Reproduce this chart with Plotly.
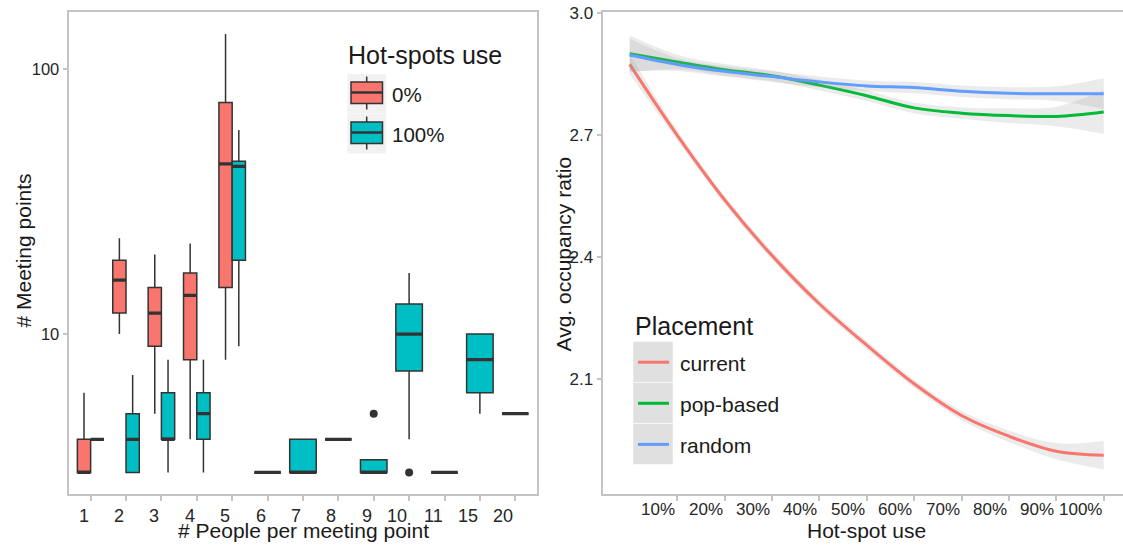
import numpy as np
import plotly.graph_objects as go

W, H = 1123, 545
FONT = "Liberation Sans, Arial, sans-serif"
TXT = "#1a1a1a"
TICK_TXT = "#262626"
FRAME = "#c4c4c4"
BOX_LINE = "#333333"

# ---------------- left panel: meeting-point size distributions ----------------
group_sizes = ["1", "2", "3", "4", "5", "6", "7", "8", "9", "10", "11", "15", "20"]

# 0% hot-spot use
sizes_0 = ["1", "2", "3", "4", "5"]
lo_0 = [3, 10, 5, 4, 8]
q1_0 = [3, 12, 9, 8, 15]
med_0 = [3, 16, 12, 14, 44]
q3_0 = [4, 19, 15, 17, 75]
hi_0 = [6, 23, 20, 22, 136]

# 100% hot-spot use
sizes_100 = ["1", "2", "3", "4", "5", "6", "7", "8", "9", "10", "11", "15", "20"]
lo_100 = [4, 3, 3, 3, 9, 3, 3, 4, 3, 4, 3, 5, 5]
q1_100 = [4, 3, 4, 4, 19, 3, 3, 4, 3, 7.25, 3, 6, 5]
med_100 = [4, 4, 4, 5, 43, 3, 3, 4, 3, 10, 3, 8, 5]
q3_100 = [4, 5, 6, 6, 45, 3, 4, 4, 3.35, 13, 3, 10, 5]
hi_100 = [4, 7, 8, 8, 59, 3, 4, 4, 3.35, 17, 3, 10, 5]

# outliers (100% hot-spot use)
outlier_sizes = ["9", "10"]
outlier_vals = [5, 3]

share_labels = ["0%", "100%"]
share_colors = ["#F8766D", "#00BFC4"]

# ---------------- right panel: occupancy vs hot-spot use ----------------
hotspot_use = [0.0, 0.1, 0.2, 0.3, 0.4, 0.5, 0.6, 0.7, 0.8, 0.9, 1.0]
x_tick_vals = [0.1, 0.2, 0.3, 0.4, 0.5, 0.6, 0.7, 0.8, 0.9, 1.0]
x_tick_text = ["10%", "20%", "30%", "40%", "50%", "60%", "70%", "80%", "90%", "100%"]
y_tick_vals = [2.1, 2.4, 2.7, 3.0]

current_fit = [2.874, 2.700, 2.541, 2.404, 2.285, 2.183, 2.088, 2.010, 1.959, 1.922, 1.912]
current_lo = [2.849, 2.688, 2.531, 2.394, 2.275, 2.173, 2.078, 1.999, 1.945, 1.902, 1.877]
current_hi = [2.899, 2.712, 2.551, 2.414, 2.295, 2.193, 2.098, 2.021, 1.973, 1.942, 1.947]

popbased_fit = [2.900, 2.880, 2.861, 2.846, 2.823, 2.797, 2.767, 2.754, 2.748, 2.746, 2.757]
popbased_lo = [2.855, 2.862, 2.847, 2.833, 2.810, 2.784, 2.754, 2.740, 2.730, 2.722, 2.703]
popbased_hi = [2.945, 2.898, 2.875, 2.859, 2.836, 2.810, 2.780, 2.768, 2.766, 2.770, 2.811]

random_fit = [2.897, 2.874, 2.857, 2.844, 2.831, 2.821, 2.817, 2.808, 2.803, 2.802, 2.802]
random_lo = [2.857, 2.858, 2.844, 2.831, 2.818, 2.808, 2.803, 2.794, 2.788, 2.784, 2.764]
random_hi = [2.937, 2.890, 2.870, 2.857, 2.844, 2.834, 2.831, 2.822, 2.818, 2.820, 2.840]

placement_labels = ["current", "pop-based", "random"]
placement_colors = ["#F8766D", "#00BA38", "#619CFF"]


def px(x):
    return x / W


def py(y):
    return 1 - y / H


fig = go.Figure()

# ---- boxes, dodged within each group size ----
series = [
    (sizes_0, lo_0, q1_0, med_0, q3_0, hi_0, share_colors[0]),
    (sizes_100, lo_100, q1_100, med_100, q3_100, hi_100, share_colors[1]),
]
present = {g: [k for k, s in enumerate(series) if g in s[0]] for g in group_sizes}
dodge = 0.75

med_x, med_y = [], []
for k, (sizes, lo, q1, med, q3, hi, col) in enumerate(series):
    for j, g in enumerate(sizes):
        members = present[g]
        n = len(members)
        w = dodge / n
        pos = group_sizes.index(g) + 1 + (members.index(k) - (n - 1) / 2) * w
        fig.add_trace(go.Box(
            x=[pos], q1=[q1[j]], median=[med[j]], q3=[q3[j]],
            lowerfence=[lo[j]], upperfence=[hi[j]],
            width=w * 0.999, fillcolor=col, whiskerwidth=0,
            line=dict(color=BOX_LINE, width=1.5), boxpoints=False,
            showlegend=False, hoverinfo="skip", xaxis="x", yaxis="y",
        ))
        med_x += [pos - w / 2, pos + w / 2, None]
        med_y += [med[j], med[j], None]

# thicker median bars
fig.add_trace(go.Scatter(
    x=med_x, y=med_y, mode="lines", line=dict(color=BOX_LINE, width=3.2),
    showlegend=False, hoverinfo="skip", xaxis="x", yaxis="y",
))

# outliers
fig.add_trace(go.Scatter(
    x=[group_sizes.index(g) + 1 for g in outlier_sizes], y=outlier_vals,
    mode="markers", marker=dict(color=BOX_LINE, size=8),
    showlegend=False, hoverinfo="skip", xaxis="x", yaxis="y",
))

# ---- smoothed occupancy curves with confidence ribbons ----
fits = [(current_fit, current_lo, current_hi),
        (popbased_fit, popbased_lo, popbased_hi),
        (random_fit, random_lo, random_hi)]
for (fit, lo, hi), col in zip(fits, placement_colors):
    fig.add_trace(go.Scatter(
        x=hotspot_use, y=lo, mode="lines", line=dict(width=0, shape="spline"),
        showlegend=False, hoverinfo="skip", xaxis="x2", yaxis="y2",
    ))
    fig.add_trace(go.Scatter(
        x=hotspot_use, y=hi, mode="lines", line=dict(width=0, shape="spline"),
        fill="tonexty", fillcolor="rgba(153,153,153,0.2)",
        showlegend=False, hoverinfo="skip", xaxis="x2", yaxis="y2",
    ))
    fig.add_trace(go.Scatter(
        x=hotspot_use, y=fit, mode="lines",
        line=dict(color=col, width=3, shape="spline"),
        showlegend=False, hoverinfo="skip", xaxis="x2", yaxis="y2",
    ))

# ---- axes ----
all_vals = lo_0 + lo_100 + hi_0 + hi_100 + outlier_vals
lmin, lmax = np.log10(min(all_vals)), np.log10(max(all_vals))
lpad = 0.05 * (lmax - lmin)

axis_common = dict(
    showline=True, linecolor=FRAME, linewidth=1.6, showgrid=False, zeroline=False,
    ticks="outside", ticklen=5, tickwidth=1.5, tickcolor=FRAME, automargin=False,
)
y_dom = [py(494.3), py(12.2)]

fig.update_layout(
    width=W, height=H,
    margin=dict(l=0, r=0, t=0, b=0, autoexpand=False),
    paper_bgcolor="white", plot_bgcolor="white",
    boxmode="overlay",
    font=dict(family=FONT, color=TXT),
    xaxis=dict(axis_common, domain=[px(69.4), px(536.5)], range=[0.4, len(group_sizes) + 0.6],
               tickvals=list(range(1, len(group_sizes) + 1)), showticklabels=False,
               mirror=True, anchor="y"),
    yaxis=dict(axis_common, domain=y_dom, type="log", range=[lmin - lpad, lmax + lpad],
               tickvals=[10, 100], ticktext=["10", "100"], mirror=True, anchor="x",
               tickfont=dict(size=16.5, color=TICK_TXT, family=FONT)),
    xaxis2=dict(axis_common, domain=[px(603.3), 1.0], range=[-0.0557, 1.0407],
                tickvals=x_tick_vals, showticklabels=False, mirror=True, anchor="y2"),
    yaxis2=dict(axis_common, domain=y_dom, range=[1.816, 3.0025],
                tickvals=y_tick_vals, tickformat=".1f", anchor="x2",
                tickfont=dict(size=17, color=TICK_TXT, family=FONT)),
)

ann = []
shapes = []

# right-aligned x tick labels
for i, g in enumerate(group_sizes):
    ann.append(dict(x=i + 1, y=py(515.5), xref="x", yref="paper", text=g,
                    xanchor="right", yanchor="middle", showarrow=False,
                    font=dict(size=18, color=TICK_TXT)))
for v, t in zip(x_tick_vals, x_tick_text):
    ann.append(dict(x=v, y=py(509), xref="x2", yref="paper", text=t,
                    xanchor="right", yanchor="middle", showarrow=False,
                    font=dict(size=17, color=TICK_TXT)))

# axis titles
ann += [
    dict(x=px(303), y=py(530.5), xref="paper", yref="paper", text="# People per meeting point",
         xanchor="center", yanchor="middle", showarrow=False, font=dict(size=21)),
    dict(x=0.5, y=py(530.5), xref="x2", yref="paper", text="Hot-spot use",
         xanchor="center", yanchor="middle", showarrow=False, font=dict(size=21)),
    dict(x=px(22.5), y=py(251), xref="paper", yref="paper", text="# Meeting points",
         textangle=-90, xanchor="center", yanchor="middle", showarrow=False, font=dict(size=21)),
    dict(x=px(562.5), y=py(254), xref="paper", yref="paper", text="Avg. occupancy ratio",
         textangle=-90, xanchor="center", yanchor="middle", showarrow=False, font=dict(size=21)),
]

# legend: hot-spots use
ann.append(dict(x=px(346), y=py(55), xref="paper", yref="paper", text="Hot-spots use",
                xanchor="left", yanchor="middle", showarrow=False, font=dict(size=25)))
for k, (lab, col) in enumerate(zip(share_labels, share_colors)):
    top = 74 + 40 * k
    shapes.append(dict(type="rect", xref="paper", yref="paper",
                       x0=px(347.3), x1=px(386), y0=py(top + 39.5), y1=py(top),
                       fillcolor="#f2f2f2", line=dict(width=0), layer="above"))
    shapes.append(dict(type="line", xref="paper", yref="paper",
                       x0=px(366.7), x1=px(366.7), y0=py(top + 35.5), y1=py(top + 2.5),
                       line=dict(color=BOX_LINE, width=1.5), layer="above"))
    shapes.append(dict(type="rect", xref="paper", yref="paper",
                       x0=px(351), x1=px(382.5), y0=py(top + 29.5), y1=py(top + 8),
                       fillcolor=col, line=dict(color=BOX_LINE, width=1.5), layer="above"))
    shapes.append(dict(type="line", xref="paper", yref="paper",
                       x0=px(351), x1=px(382.5), y0=py(top + 18.5), y1=py(top + 18.5),
                       line=dict(color=BOX_LINE, width=2.5), layer="above"))
    ann.append(dict(x=px(390), y=py(top + 20), xref="paper", yref="paper", text=lab,
                    xanchor="left", yanchor="middle", showarrow=False, font=dict(size=20.5)))

# legend: placement
ann.append(dict(x=px(633), y=py(325.5), xref="paper", yref="paper", text="Placement",
                xanchor="left", yanchor="middle", showarrow=False, font=dict(size=25)))
for k, (lab, col) in enumerate(zip(placement_labels, placement_colors)):
    top = 341.7 + 41.1 * k
    shapes.append(dict(type="rect", xref="paper", yref="paper",
                       x0=px(633.3), x1=px(672.7), y0=py(top + 40.4), y1=py(top),
                       fillcolor="#e0e0e0", line=dict(width=0), layer="above"))
    shapes.append(dict(type="line", xref="paper", yref="paper",
                       x0=px(638), x1=px(669), y0=py(top + 20.5), y1=py(top + 20.5),
                       line=dict(color=col, width=3), layer="above"))
    ann.append(dict(x=px(678), y=py(top + 21.5), xref="paper", yref="paper", text=lab,
                    xanchor="left", yanchor="middle", showarrow=False, font=dict(size=21)))

fig.update_layout(annotations=ann, shapes=shapes)
fig.write_html("out.html")
